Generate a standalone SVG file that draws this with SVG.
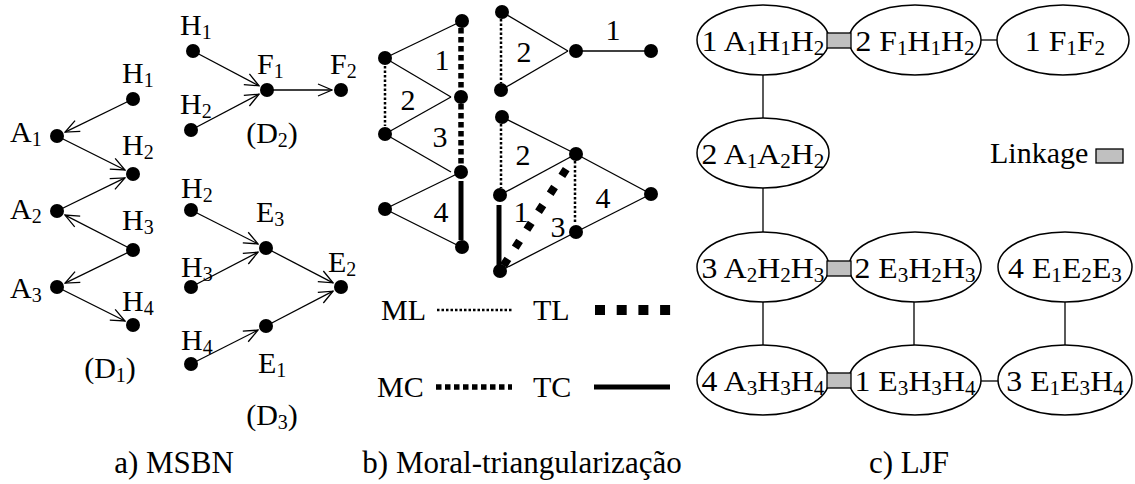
<svg xmlns="http://www.w3.org/2000/svg" width="1135" height="484" viewBox="0 0 1135 484">
<defs>
<style>
.t{font-family:"Liberation Serif","Times New Roman",serif;font-size:30px;fill:#000}
.s{font-size:20px}
.cap{font-size:31px}
.thin{stroke:#000;stroke-width:1.3;fill:none}
.arrow{stroke:#000;stroke-width:1.3;fill:none}
.ml{stroke:#000;stroke-width:2.5;stroke-dasharray:2.5 2}
.mc{stroke:#000;stroke-width:5.5;stroke-dasharray:5.5 3.5}
.tl{stroke:#000;stroke-width:10;stroke-dasharray:10 11.7}
.tld{stroke:#000;stroke-width:8;stroke-dasharray:8 13.4}
.tc{stroke:#000;stroke-width:5}
.dot{fill:#000}
.ell{fill:#fff;stroke:#000;stroke-width:1.5}
.link{fill:#c0c0c0;stroke:#000;stroke-width:1.3}
</style>
<marker id="arr" viewBox="-1 -1 16 14" refX="14" refY="6" markerWidth="16" markerHeight="14" markerUnits="userSpaceOnUse" orient="auto">
<path d="M0,0 L14,6 L0,12" fill="none" stroke="#000" stroke-width="1.3"/>
</marker>
</defs>
<rect width="1135" height="484" fill="#fff"/>

<!-- Panel a: MSBN -->
<g id="connectors-a">
<line class="arrow" marker-end="url(#arr)" x1="133" y1="99" x2="65.1" y2="132.1"/>
<line class="arrow" marker-end="url(#arr)" x1="57" y1="136" x2="125" y2="170"/>
<line class="arrow" marker-end="url(#arr)" x1="133" y1="250" x2="65" y2="215.1"/>
<line class="arrow" marker-end="url(#arr)" x1="57" y1="211" x2="124.9" y2="177.9"/>
<line class="arrow" marker-end="url(#arr)" x1="133" y1="250" x2="65.1" y2="283.1"/>
<line class="arrow" marker-end="url(#arr)" x1="57" y1="287" x2="125" y2="321"/>
<line class="arrow" marker-end="url(#arr)" x1="193" y1="51" x2="259" y2="85.8"/>
<line class="arrow" marker-end="url(#arr)" x1="191" y1="130" x2="259" y2="94.2"/>
<line class="arrow" marker-end="url(#arr)" x1="267" y1="90" x2="332" y2="90"/>
<line class="arrow" marker-end="url(#arr)" x1="191" y1="210" x2="258" y2="243.9"/>
<line class="arrow" marker-end="url(#arr)" x1="191" y1="287" x2="258" y2="252.2"/>
<line class="arrow" marker-end="url(#arr)" x1="266" y1="248" x2="333" y2="282.8"/>
<line class="arrow" marker-end="url(#arr)" x1="191" y1="364" x2="258" y2="330.1"/>
<line class="arrow" marker-end="url(#arr)" x1="266" y1="326" x2="333" y2="291.2"/>
</g>
<g id="a-d1-h1"><circle class="dot" cx="133" cy="99" r="7"/><text class="t" x="122" y="83">H<tspan class="s" dy="4">1</tspan></text></g>
<g id="a-d1-a1"><circle class="dot" cx="57" cy="136" r="7"/><text class="t" x="10" y="142">A<tspan class="s" dy="4">1</tspan></text></g>
<g id="a-d1-h2"><circle class="dot" cx="133" cy="174" r="7"/><text class="t" x="122" y="155">H<tspan class="s" dy="4">2</tspan></text></g>
<g id="a-d1-a2"><circle class="dot" cx="57" cy="211" r="7"/><text class="t" x="10" y="219">A<tspan class="s" dy="4">2</tspan></text></g>
<g id="a-d1-h3"><circle class="dot" cx="133" cy="250" r="7"/><text class="t" x="122" y="230">H<tspan class="s" dy="4">3</tspan></text></g>
<g id="a-d1-a3"><circle class="dot" cx="57" cy="287" r="7"/><text class="t" x="10" y="298">A<tspan class="s" dy="4">3</tspan></text></g>
<g id="a-d1-h4"><circle class="dot" cx="133" cy="325" r="7"/><text class="t" x="122" y="311">H<tspan class="s" dy="4">4</tspan></text></g>
<g id="a-d1-label"><text class="t" x="110" y="378" text-anchor="middle">(D<tspan class="s" dy="4">1</tspan><tspan dy="-4">)</tspan></text></g>

<g id="a-d2-h1"><circle class="dot" cx="193" cy="51" r="7"/><text class="t" x="180" y="35">H<tspan class="s" dy="4">1</tspan></text></g>
<g id="a-d2-h2"><circle class="dot" cx="191" cy="130" r="7"/><text class="t" x="180" y="114">H<tspan class="s" dy="4">2</tspan></text></g>
<g id="a-d2-f1"><circle class="dot" cx="267" cy="90" r="7"/><text class="t" x="257" y="74">F<tspan class="s" dy="4">1</tspan></text></g>
<g id="a-d2-f2"><circle class="dot" cx="341" cy="90" r="7"/><text class="t" x="330" y="74">F<tspan class="s" dy="4">2</tspan></text></g>
<g id="a-d2-label"><text class="t" x="272" y="143" text-anchor="middle">(D<tspan class="s" dy="4">2</tspan><tspan dy="-4">)</tspan></text></g>

<g id="a-d3-h2"><circle class="dot" cx="191" cy="210" r="7"/><text class="t" x="181" y="198">H<tspan class="s" dy="4">2</tspan></text></g>
<g id="a-d3-e3"><circle class="dot" cx="266" cy="248" r="7"/><text class="t" x="256" y="222">E<tspan class="s" dy="4">3</tspan></text></g>
<g id="a-d3-h3"><circle class="dot" cx="191" cy="287" r="7"/><text class="t" x="181" y="277">H<tspan class="s" dy="4">3</tspan></text></g>
<g id="a-d3-e2"><circle class="dot" cx="341" cy="287" r="7"/><text class="t" x="328" y="272">E<tspan class="s" dy="4">2</tspan></text></g>
<g id="a-d3-h4"><circle class="dot" cx="191" cy="364" r="7"/><text class="t" x="181" y="350">H<tspan class="s" dy="4">4</tspan></text></g>
<g id="a-d3-e1"><circle class="dot" cx="266" cy="326" r="7"/><text class="t" x="258" y="373">E<tspan class="s" dy="4">1</tspan></text></g>
<g id="a-d3-label"><text class="t" x="272" y="425" text-anchor="middle">(D<tspan class="s" dy="4">3</tspan><tspan dy="-4">)</tspan></text></g>
<text class="t cap" x="174" y="473" text-anchor="middle">a) MSBN</text>

<!-- Panel b: Moral-triangularizacao -->
<g id="connectors-b">
<line class="thin" x1="385" y1="58" x2="462" y2="21"/>
<line class="thin" x1="385" y1="58" x2="451" y2="97"/>
<line class="thin" x1="385" y1="134" x2="451" y2="97"/>
<line class="thin" x1="385" y1="134" x2="451" y2="172"/>
<line class="thin" x1="385" y1="209" x2="461" y2="172"/>
<line class="thin" x1="385" y1="209" x2="461" y2="247"/>
<line class="ml" x1="385" y1="66" x2="385" y2="126"/>
<line class="mc" x1="461" y1="28" x2="461" y2="90"/>
<line class="mc" x1="461" y1="104" x2="461" y2="165"/>
<line class="tc" x1="461" y1="181" x2="461" y2="240"/>

<line class="thin" x1="502" y1="12" x2="568" y2="51"/>
<line class="thin" x1="501" y1="90" x2="568" y2="51"/>
<line class="thin" x1="576" y1="51" x2="651" y2="51"/>
<line class="ml" x1="501" y1="19" x2="501" y2="83"/>

<line class="thin" x1="502" y1="117" x2="576" y2="154"/>
<line class="thin" x1="500" y1="195" x2="576" y2="154"/>
<line class="thin" x1="576" y1="154" x2="651" y2="194"/>
<line class="thin" x1="576" y1="232" x2="651" y2="194"/>
<line class="thin" x1="500" y1="271" x2="576" y2="232"/>
<line class="ml" x1="501" y1="124" x2="501" y2="188"/>
<line class="ml" x1="575" y1="161" x2="575" y2="224"/>
<line class="tc" x1="499" y1="205" x2="499" y2="266"/>
<line class="tld" x1="566.2" y1="169.1" x2="503.5" y2="265.6"/>
</g>
<g id="b-left-n1"><circle class="dot" cx="462" cy="21" r="7"/></g>
<g id="b-left-n2"><circle class="dot" cx="385" cy="58" r="7"/></g>
<g id="b-left-n3"><circle class="dot" cx="461" cy="97" r="7"/></g>
<g id="b-left-n4"><circle class="dot" cx="385" cy="134" r="7"/></g>
<g id="b-left-n5"><circle class="dot" cx="461" cy="172" r="7"/></g>
<g id="b-left-n6"><circle class="dot" cx="385" cy="209" r="7"/></g>
<g id="b-left-n7"><circle class="dot" cx="462" cy="247" r="7"/></g>
<g id="b-up-n1"><circle class="dot" cx="502" cy="12" r="7"/></g>
<g id="b-up-n2"><circle class="dot" cx="501" cy="90" r="7"/></g>
<g id="b-up-n3"><circle class="dot" cx="576" cy="51" r="7"/></g>
<g id="b-up-n4"><circle class="dot" cx="651" cy="51" r="7"/></g>
<g id="b-low-n1"><circle class="dot" cx="502" cy="117" r="7"/></g>
<g id="b-low-n2"><circle class="dot" cx="576" cy="154" r="7"/></g>
<g id="b-low-n3"><circle class="dot" cx="500" cy="195" r="7"/></g>
<g id="b-low-n4"><circle class="dot" cx="651" cy="194" r="7"/></g>
<g id="b-low-n5"><circle class="dot" cx="576" cy="232" r="7"/></g>
<g id="b-low-n6"><circle class="dot" cx="500" cy="271" r="7"/></g>
<g id="b-labels" text-anchor="middle">
<text class="t" x="442" y="70">1</text>
<text class="t" x="408" y="110">2</text>
<text class="t" x="440" y="147">3</text>
<text class="t" x="441" y="222">4</text>
<text class="t" x="524" y="62">2</text>
<text class="t" x="613" y="40">1</text>
<text class="t" x="523" y="165">2</text>
<text class="t" x="521" y="222">1</text>
<text class="t" x="558" y="237">3</text>
<text class="t" x="603" y="208">4</text>
</g>
<g id="b-legend">
<text class="t" x="381" y="320">ML</text>
<line class="ml" x1="437" y1="310" x2="512" y2="310"/>
<text class="t" x="533" y="320">TL</text>
<line class="tl" x1="595" y1="310" x2="671" y2="310"/>
<text class="t" x="377" y="397">MC</text>
<line class="mc" x1="436" y1="387" x2="512" y2="387"/>
<text class="t" x="533" y="397">TC</text>
<line class="tc" x1="594" y1="387" x2="670" y2="387"/>
</g>
<text class="t cap" x="522" y="473" text-anchor="middle">b) Moral-triangularização</text>

<!-- Panel c: LJF -->
<g id="connectors-c">
<line class="thin" x1="763" y1="75" x2="763" y2="118"/>
<line class="thin" x1="763" y1="188" x2="763" y2="232"/>
<line class="thin" x1="763" y1="302" x2="763" y2="345"/>
<line class="thin" x1="914" y1="302" x2="914" y2="345"/>
<line class="thin" x1="1065" y1="302" x2="1065" y2="345"/>
<line class="thin" x1="981" y1="40" x2="997" y2="40"/>
<line class="thin" x1="981" y1="381" x2="999" y2="381"/>
</g>
<g id="c-1-a1h1h2"><ellipse class="ell" cx="763" cy="40" rx="66" ry="35"/><text class="t" text-anchor="middle" transform="translate(763 51) scale(1.06 1)">1 A<tspan class="s" dy="4">1</tspan><tspan dy="-4">H</tspan><tspan class="s" dy="4">1</tspan><tspan dy="-4">H</tspan><tspan class="s" dy="4">2</tspan></text></g>
<g id="c-2-f1h1h2"><ellipse class="ell" cx="915" cy="40" rx="66" ry="35"/><text class="t" text-anchor="middle" transform="translate(915 51) scale(1.06 1)">2 F<tspan class="s" dy="4">1</tspan><tspan dy="-4">H</tspan><tspan class="s" dy="4">1</tspan><tspan dy="-4">H</tspan><tspan class="s" dy="4">2</tspan></text></g>
<g id="c-1-f1f2"><ellipse class="ell" cx="1063" cy="40" rx="66" ry="35"/><text class="t" text-anchor="middle" transform="translate(1065 51) scale(1.06 1)">1 F<tspan class="s" dy="4">1</tspan><tspan dy="-4">F</tspan><tspan class="s" dy="4">2</tspan></text></g>
<g id="c-2-a1a2h2"><ellipse class="ell" cx="763" cy="153" rx="66" ry="35"/><text class="t" text-anchor="middle" transform="translate(763 164) scale(1.06 1)">2 A<tspan class="s" dy="4">1</tspan><tspan dy="-4">A</tspan><tspan class="s" dy="4">2</tspan><tspan dy="-4">H</tspan><tspan class="s" dy="4">2</tspan></text></g>
<g id="c-3-a2h2h3"><ellipse class="ell" cx="763" cy="267" rx="66" ry="35"/><text class="t" text-anchor="middle" transform="translate(763 278) scale(1.06 1)">3 A<tspan class="s" dy="4">2</tspan><tspan dy="-4">H</tspan><tspan class="s" dy="4">2</tspan><tspan dy="-4">H</tspan><tspan class="s" dy="4">3</tspan></text></g>
<g id="c-2-e3h2h3"><ellipse class="ell" cx="915" cy="267" rx="66" ry="35"/><text class="t" text-anchor="middle" transform="translate(915 278) scale(1.06 1)">2 E<tspan class="s" dy="4">3</tspan><tspan dy="-4">H</tspan><tspan class="s" dy="4">2</tspan><tspan dy="-4">H</tspan><tspan class="s" dy="4">3</tspan></text></g>
<g id="c-4-e1e2e3"><ellipse class="ell" cx="1065" cy="267" rx="67" ry="35"/><text class="t" text-anchor="middle" transform="translate(1065 278) scale(1.06 1)">4 E<tspan class="s" dy="4">1</tspan><tspan dy="-4">E</tspan><tspan class="s" dy="4">2</tspan><tspan dy="-4">E</tspan><tspan class="s" dy="4">3</tspan></text></g>
<g id="c-4-a3h3h4"><ellipse class="ell" cx="763" cy="380" rx="66" ry="35"/><text class="t" text-anchor="middle" transform="translate(763 391) scale(1.06 1)">4 A<tspan class="s" dy="4">3</tspan><tspan dy="-4">H</tspan><tspan class="s" dy="4">3</tspan><tspan dy="-4">H</tspan><tspan class="s" dy="4">4</tspan></text></g>
<g id="c-1-e3h3h4"><ellipse class="ell" cx="915" cy="380" rx="66" ry="35"/><text class="t" text-anchor="middle" transform="translate(915 391) scale(1.06 1)">1 E<tspan class="s" dy="4">3</tspan><tspan dy="-4">H</tspan><tspan class="s" dy="4">3</tspan><tspan dy="-4">H</tspan><tspan class="s" dy="4">4</tspan></text></g>
<g id="c-3-e1e3h4"><ellipse class="ell" cx="1065" cy="380" rx="67" ry="35"/><text class="t" text-anchor="middle" transform="translate(1065 391) scale(1.06 1)">3 E<tspan class="s" dy="4">1</tspan><tspan dy="-4">E</tspan><tspan class="s" dy="4">3</tspan><tspan dy="-4">H</tspan><tspan class="s" dy="4">4</tspan></text></g>
<g id="c-linkages">
<rect class="link" x="827" y="33" width="24" height="15"/>
<rect class="link" x="827" y="261" width="24" height="15"/>
<rect class="link" x="827" y="373" width="24" height="15"/>
</g>
<g id="c-legend">
<text class="t" x="990" y="163">Linkage</text>
<rect class="link" x="1096" y="149" width="27" height="14"/>
</g>
<text class="t cap" x="909" y="473" text-anchor="middle">c) LJF</text>
</svg>
